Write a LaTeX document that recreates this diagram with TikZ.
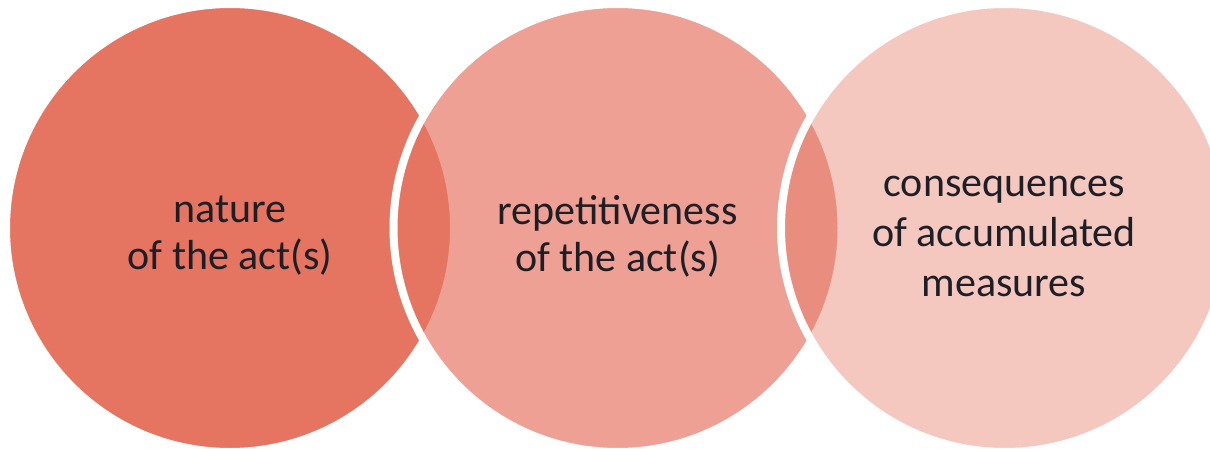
\documentclass[tikz,border=0pt]{standalone}
\usepackage{fontspec}
\setmainfont{Carlito}
\definecolor{base}{HTML}{E57461}
\definecolor{txt}{HTML}{1E1E26}
\begin{document}
\begin{tikzpicture}[x=1pt,y=1pt,
  ring/.style={circle, inner sep=0pt, minimum size=448pt, draw=white, line width=8pt, fill=base},
  label/.style={align=center, inner sep=0pt, text=txt, font=\fontsize{42}{47}\selectfont}]
\useasboundingbox (0,0) rectangle (1210,448);
\clip (0,0) rectangle (1210,448);
\fill[white] (0,0) rectangle (1210,448);
\node[ring] (c1) at (230,220) {};
\node[ring, fill opacity=0.68] (c2) at (617.5,220) {};
\node[ring, fill opacity=0.4] (c3) at (1005,220) {};
\node[label] (t1) at (230,212) {nature\\of the act(s)};
\node[label] (t2) at (617.5,212) {repetitiveness\\of the act(s)};
\node[label, font=\fontsize{42}{50}\selectfont] (t3) at (1004,212) {consequences\\of accumulated\\measures};
\end{tikzpicture}
\end{document}
